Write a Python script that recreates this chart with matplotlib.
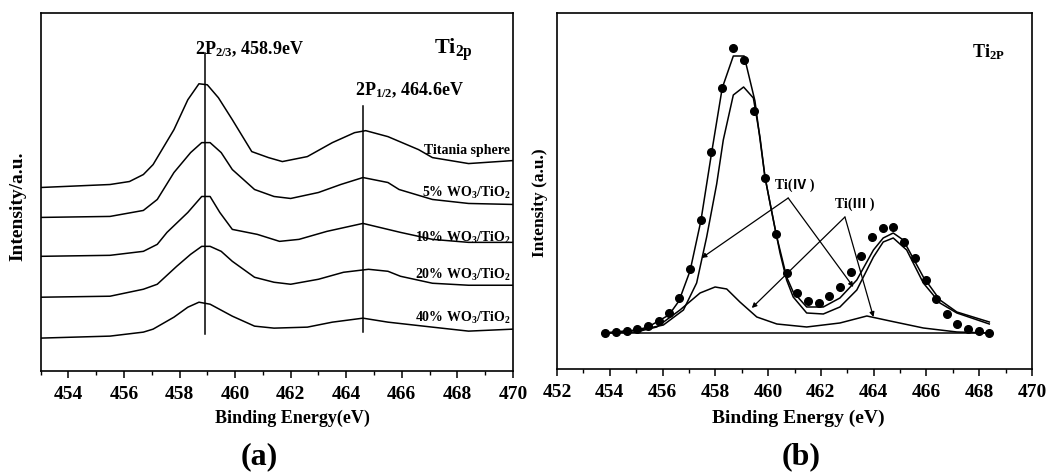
import matplotlib
matplotlib.use("Agg")
import matplotlib.pyplot as plt
from matplotlib.ticker import MultipleLocator

plt.rcParams['font.family'] = ['Liberation Serif', 'Noto Sans CJK SC', 'DejaVu Sans']
plt.rcParams['font.weight'] = 'bold'
plt.rcParams['mathtext.default'] = 'regular'

# ---- panel (a): Ti2p spectra, heights ----
E1 = [453.0, 455.5, 456.2, 456.7, 457.05, 457.8, 458.3, 458.7, 459.0, 459.4, 459.9, 460.6,
      461.2, 461.7, 462.6, 463.5, 464.3, 464.7, 465.5, 466.6, 467.1, 468.4, 470.0]
I1 = [184, 187, 190, 197, 207, 242, 272, 288, 287, 274, 252, 220,
      214, 210, 215, 229, 239, 241, 235, 222, 214, 208, 211]

E2 = [453.0, 455.5, 456.7, 457.2, 457.8, 458.4, 458.8, 459.1, 459.5, 459.9, 460.7,
      461.4, 462.0, 463.0, 463.8, 464.6, 465.5, 465.9, 467.1, 468.4, 470.0]
I2 = [154, 155, 161, 172, 199, 219, 229, 229, 219, 202, 182,
      175, 173, 179, 187, 194, 189, 182, 172, 168, 167]

E3 = [453.0, 455.5, 456.7, 457.2, 457.55, 458.3, 458.8, 459.1, 459.45, 459.9, 460.8,
      461.6, 462.3, 463.3, 464.6, 465.95, 467.1, 468.4, 470.0]
I3 = [115, 116, 120, 127, 139, 159, 175, 175, 159, 142, 137,
      130, 132, 140, 148, 139, 132, 129, 129]

E4 = [453.0, 455.5, 456.7, 457.2, 457.9, 458.4, 458.8, 459.1, 459.5, 459.9, 460.7,
      461.4, 462.0, 463.0, 463.9, 464.8, 465.5, 465.95, 467.1, 468.4, 470.0]
I4 = [74, 75, 82, 87, 105, 117, 125, 125, 120, 110, 94,
      89, 87, 92, 99, 102, 100, 95, 88, 86, 86]

E5 = [453.0, 455.5, 456.7, 457.05, 457.8, 458.3, 458.7, 459.1, 459.9, 460.7, 461.4,
      462.6, 463.5, 464.6, 465.5, 467.1, 468.4, 470.0]
I5 = [33, 35, 39, 42, 54, 64, 69, 67, 55, 45, 43,
      44, 49, 53, 49, 44, 40, 42]

series_a = [(E1, I1), (E2, I2), (E3, I3), (E4, I4), (E5, I5)]
labels_a = ['Titania sphere', '5% WO$_3$/TiO$_2$', '10% WO$_3$/TiO$_2$',
            '20% WO$_3$/TiO$_2$', '40% WO$_3$/TiO$_2$']
label_h = [218, 175, 129, 92, 49]

peak_pos = [458.9, 464.6]
peak_span = [(37, 319), (39, 266)]

# ---- panel (b): fit of Ti2p ----
Edots = [453.82, 454.24, 454.64, 455.04, 455.45, 455.85, 456.26, 456.63, 457.04, 457.45,
         457.85, 458.26, 458.68, 459.07, 459.48, 459.88, 460.30, 460.70, 461.11, 461.51,
         461.92, 462.32, 462.72, 463.13, 463.53, 463.94, 464.34, 464.74, 465.16, 465.57,
         465.97, 466.36, 466.77, 467.17, 467.57, 467.98, 468.38]
Idots = [36, 37, 38, 40, 43, 48, 56, 71, 100, 149,
         217, 281, 321, 309, 258, 191, 135, 96, 76, 68,
         66, 73, 82, 97, 113, 132, 141, 142, 127, 111,
         89, 70, 55, 45, 40, 38, 36]

Efit = [453.82, 455.03, 455.45, 456.24, 456.62, 457.04, 457.45, 457.85, 458.26, 458.68,
        459.09, 459.5, 459.88, 460.30, 460.70, 460.95, 461.46, 462.09, 462.72, 463.36,
        463.99, 464.36, 464.74, 465.12, 465.88, 466.51, 467.15, 468.38]
Ifit = [36, 39, 42, 54, 68, 98, 148, 215, 281, 313,
        313, 268, 192, 135, 92, 77, 62, 62, 71, 89,
        119, 131, 136, 129, 92, 69, 57, 47]

E_ti4 = [453.82, 455.15, 456.03, 456.79, 457.29, 457.67, 458.05, 458.30, 458.68, 459.07,
         459.44, 459.69, 459.88, 460.07, 460.45, 460.70, 460.95, 461.46, 462.09, 462.72,
         463.36, 463.99, 464.36, 464.74, 465.25, 465.88, 466.51, 467.15, 468.38]
I_ti4 = [36, 39, 44, 59, 86, 132, 185, 229, 274, 282,
         271, 232, 192, 166, 116, 89, 72, 56, 55, 62,
         79, 112, 127, 131, 119, 86, 66, 56, 45]

E_ti3 = [453.82, 455.0, 455.78, 456.66, 457.42, 457.99, 458.43, 458.93, 459.57, 460.33,
         461.46, 462.72, 463.74, 464.62, 465.88, 467.15, 468.38]
I_ti3 = [36, 37, 42, 59, 76, 82, 80, 67, 52, 45,
         42, 46, 53, 48, 41, 37, 36]

E_base = [453.82, 468.38]
I_base = [36, 36]

fig = plt.figure(figsize=(10.5, 4.73), dpi=100)
axa = fig.add_axes([0.0386, 0.2156, 0.45, 0.757])
axb = fig.add_axes([0.5305, 0.2199, 0.4524, 0.7526])

for (e, i), lab, h in zip(series_a, labels_a, label_h):
    axa.plot(e, i, color='black', lw=1.1)
    axa.text(469.9, h, lab, ha='right', va='baseline', fontsize=10, fontweight='bold')

for p, (lo, hi) in zip(peak_pos, peak_span):
    axa.plot([p, p], [lo, hi], color='black', lw=1.1)

axa.text(458.57, 318, '2P$_{2/3}$, 458.9eV', fontsize=13, fontweight='bold', va='baseline')
axa.text(464.33, 277, '2P$_{1/2}$, 464.6eV', fontsize=13, fontweight='bold', va='baseline')
axa.text(467.14, 318, 'Ti$_{2p}$', fontsize=16, fontweight='bold', va='baseline')

axa.set_xlim(453, 470)
axa.set_ylim(0, 359)

axb.plot(Edots, Idots, 'o', color='black', ms=5.5)
axb.plot(Efit, Ifit, color='black', lw=1.1)
axb.plot(E_ti4, I_ti4, color='black', lw=1.1)
axb.plot(E_ti3, I_ti3, color='black', lw=1.1)
axb.plot(E_base, I_base, color='black', lw=1.1)

axb.text(461.02, 180, 'Ti(Ⅳ )', ha='center', va='baseline', fontsize=10, fontweight='bold')
axb.text(463.29, 161, 'Ti(Ⅲ )', ha='center', va='baseline', fontsize=10, fontweight='bold')
arrow = dict(arrowstyle='-|>', color='black', lw=0.9, mutation_scale=7, shrinkA=0, shrinkB=0)
for tgt in [(457.48, 111), (463.23, 82)]:
    axb.annotate('', xy=tgt, xytext=(460.76, 171), arrowprops=arrow)
for tgt in [(459.38, 61), (463.99, 52)]:
    axb.annotate('', xy=tgt, xytext=(462.91, 152), arrowprops=arrow)
axb.text(467.73, 312, 'Ti$_{2P}$', fontsize=13, fontweight='bold', va='baseline')

axb.set_xlim(452, 470)
axb.set_ylim(0, 356)

for ax in (axa, axb):
    ax.xaxis.set_major_locator(MultipleLocator(2))
    ax.xaxis.set_minor_locator(MultipleLocator(1))
    ax.tick_params(axis='x', which='major', direction='out', length=5, width=1.1,
                   labelsize=14, pad=6)
    ax.tick_params(axis='x', which='minor', direction='out', length=3, width=1.0)
    ax.set_yticks([])
    for lab in ax.get_xticklabels():
        lab.set_fontweight('bold')
    for s in ax.spines.values():
        s.set_linewidth(1.2)

fig.text(292 / 1050, 1 - 418 / 473, 'Binding Energy(eV)', ha='center', va='center',
         fontsize=13, fontweight='bold')
fig.text(798 / 1050, 1 - 418 / 473, 'Binding Energy (eV)', ha='center', va='center',
         fontsize=14, fontweight='bold')
fig.text(18 / 1050, 1 - 206 / 473, 'Intensity/a.u.', ha='center', va='center',
         rotation=90, fontsize=14, fontweight='bold')
fig.text(540 / 1050, 1 - 203 / 473, 'Intensity (a.u.)', ha='center', va='center',
         rotation=90, fontsize=12.5, fontweight='bold')
fig.text(259 / 1050, 1 - 457 / 473, '(a)', ha='center', va='center',
         fontsize=23, fontweight='bold')
fig.text(801 / 1050, 1 - 457 / 473, '(b)', ha='center', va='center',
         fontsize=23, fontweight='bold')

fig.savefig('out.png', dpi=100)
